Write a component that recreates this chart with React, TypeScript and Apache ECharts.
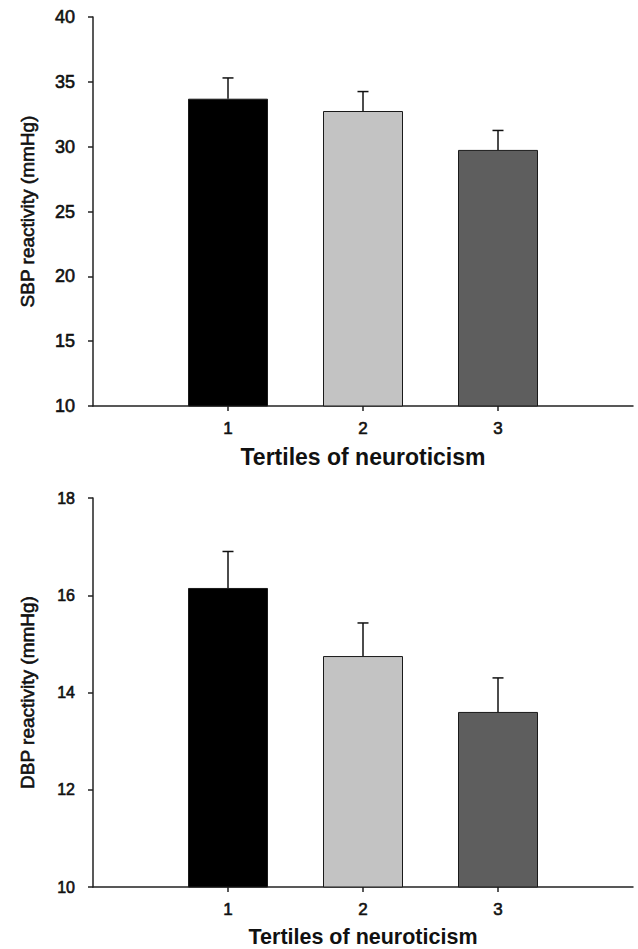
import React, { useEffect, useRef } from "react";
import * as echarts from "echarts";

const categories = ["", "1", "2", "3", ""];
const sbpMeans = [33.7, 32.75, 29.75];
const sbpErrors = [1.6, 1.5, 1.5];
const dbpMeans = [16.15, 14.75, 13.6];
const dbpErrors = [0.75, 0.68, 0.7];
const barColors = ["#000000", "#c3c3c3", "#5e5e5e"];

const FONT = "'Liberation Sans', Arial, sans-serif";
const TXT = "#111";

function barData(means: number[]) {
  return [
    "-",
    ...means.map((v, i) => ({
      value: v,
      itemStyle: { color: barColors[i], borderColor: "#1a1a1a", borderWidth: 1 },
    })),
    "-",
  ];
}

function errData(means: number[], errs: number[]) {
  return means.map((v, i) => [i + 1, v, v + errs[i]]);
}

function errRender(params: any, api: any) {
  const x = api.value(0);
  const base = api.coord([x, api.value(1)]);
  const top = api.coord([x, api.value(2)]);
  const half = 5.5;
  const style = { stroke: "#111", lineWidth: 1.5 };
  return {
    type: "group",
    children: [
      { type: "line", shape: { x1: base[0], y1: base[1], x2: top[0], y2: top[1] }, style },
      { type: "line", shape: { x1: top[0] - half, y1: top[1], x2: top[0] + half, y2: top[1] }, style },
    ],
  };
}

function xAxis(gridIndex: number, nameSize: number) {
  return {
    type: "category",
    gridIndex,
    data: categories,
    boundaryGap: false,
    axisLine: { lineStyle: { color: "#222", width: 1.5 } },
    axisTick: {
      length: 5,
      lineStyle: { color: "#222", width: 1.5 },
      interval: (idx: number) => idx >= 1 && idx <= 3,
    },
    axisLabel: {
      interval: 0,
      margin: 14,
      fontSize: 17,
      color: TXT,
      fontFamily: FONT,
      textBorderColor: TXT,
      textBorderWidth: 0.6,
    },
    name: "Tertiles of neuroticism",
    nameLocation: "middle",
    nameGap: 39,
    nameTextStyle: { fontSize: nameSize, fontWeight: "bold", color: TXT, fontFamily: FONT },
    splitLine: { show: false },
  };
}

function yAxis(gridIndex: number, min: number, max: number, interval: number, name: string, labelSize: number) {
  return {
    type: "value",
    gridIndex,
    min,
    max,
    interval,
    axisLine: { show: true, lineStyle: { color: "#222", width: 1.5 } },
    axisTick: { show: true, length: 5, lineStyle: { color: "#222", width: 1.5 } },
    axisLabel: {
      margin: 18,
      fontSize: labelSize,
      color: TXT,
      fontFamily: FONT,
      textBorderColor: TXT,
      textBorderWidth: 0.6,
    },
    splitLine: { show: false },
    name,
    nameLocation: "middle",
    nameGap: 56,
    nameRotate: 90,
    nameTextStyle: {
      fontSize: 19,
      color: TXT,
      fontFamily: FONT,
      textBorderColor: TXT,
      textBorderWidth: 0.6,
    },
  };
}

export default function App() {
  const ref = useRef<HTMLDivElement>(null);
  useEffect(() => {
    if (!ref.current) return;
    const chart = echarts.init(ref.current, null, { renderer: "svg" });
    chart.setOption({
      animation: false,
      backgroundColor: "#ffffff",
      grid: [
        { left: 93, right: 5, top: 17, height: 389 },
        { left: 93, right: 5, top: 498, height: 389 },
      ],
      xAxis: [xAxis(0, 23), xAxis(1, 21.5)],
      yAxis: [
        yAxis(0, 10, 40, 5, "SBP reactivity (mmHg)", 18),
        yAxis(1, 10, 18, 2, "DBP reactivity (mmHg)", 16),
      ],
      series: [
        { type: "bar", xAxisIndex: 0, yAxisIndex: 0, barWidth: 80, data: barData(sbpMeans) },
        { type: "custom", xAxisIndex: 0, yAxisIndex: 0, renderItem: errRender, data: errData(sbpMeans, sbpErrors), z: 3 },
        { type: "bar", xAxisIndex: 1, yAxisIndex: 1, barWidth: 80, data: barData(dbpMeans) },
        { type: "custom", xAxisIndex: 1, yAxisIndex: 1, renderItem: errRender, data: errData(dbpMeans, dbpErrors), z: 3 },
      ],
    });
    return () => chart.dispose();
  }, []);
  return (
    <div
      ref={ref}
      style={{ position: "fixed", left: 0, top: 0, width: 638, height: 949, background: "#fff" }}
    />
  );
}
